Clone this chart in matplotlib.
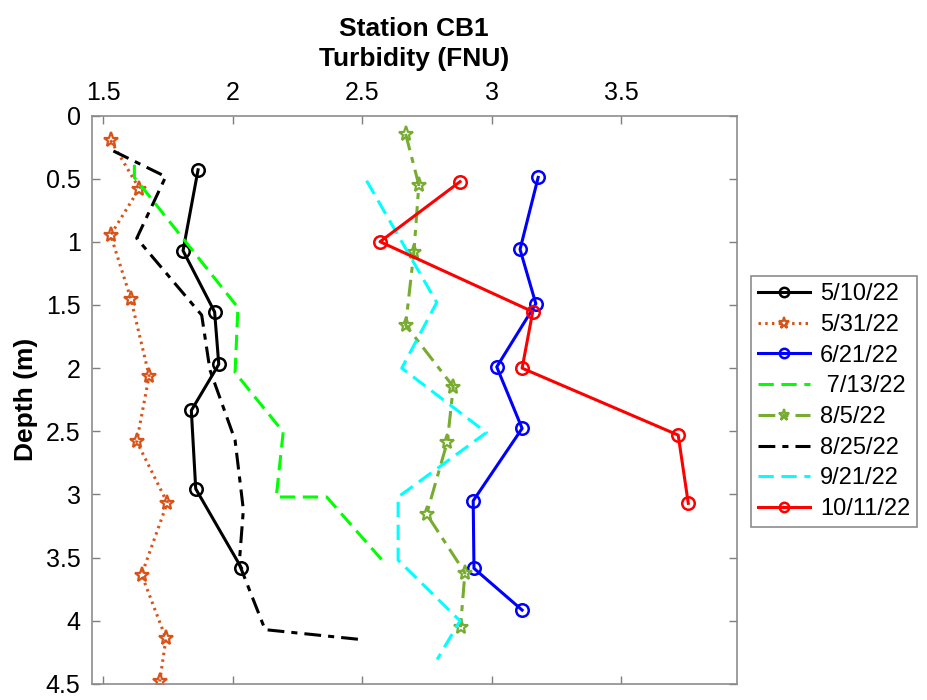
import matplotlib
matplotlib.use("Agg")
import matplotlib.pyplot as plt

plt.rcParams['font.family'] = ['Liberation Sans', 'DejaVu Sans']

# ---- data (turbidity FNU vs depth m) ----
labels = ['5/10/22', '5/31/22', '6/21/22', ' 7/13/22', '8/5/22', '8/25/22', '9/21/22', '10/11/22']

t0510 = [1.866, 1.808, 1.930, 1.946, 1.840, 1.857, 2.033]
d0510 = [0.43, 1.07, 1.555, 1.97, 2.335, 2.955, 3.58]

t0531 = [1.528, 1.639, 1.528, 1.606, 1.677, 1.629, 1.747, 1.648, 1.742, 1.718]
d0531 = [0.196, 0.578, 0.946, 1.449, 2.06, 2.58, 3.066, 3.635, 4.14, 4.48]

t0621 = [3.180, 3.110, 3.171, 3.020, 3.118, 2.929, 2.932, 3.118]
d0621 = [0.49, 1.06, 1.49, 1.99, 2.477, 3.05, 3.585, 3.915]

t0713 = [1.620, 1.620, 2.020, 2.009, 2.195, 2.168, 2.363, 2.575]
d0713 = [0.39, 0.49, 1.52, 2.035, 2.505, 3.02, 3.02, 3.515]

t0805 = [2.668, 2.719, 2.700, 2.668, 2.852, 2.829, 2.749, 2.897, 2.880]
d0805 = [0.146, 0.55, 1.078, 1.659, 2.147, 2.583, 3.155, 3.62, 4.05]

t0825 = [1.539, 1.741, 1.629, 1.880, 1.912, 2.009, 2.041, 2.025, 2.125, 2.489]
d0825 = [0.281, 0.484, 0.972, 1.58, 2.015, 2.57, 3.12, 3.55, 4.07, 4.147]

t0921 = [2.517, 2.788, 2.653, 2.980, 2.639, 2.639, 2.878, 2.790]
d0921 = [0.516, 1.48, 2.0, 2.51, 3.02, 3.52, 4.0, 4.305]

t1011 = [2.878, 2.569, 3.159, 3.118, 3.721, 3.760]
d1011 = [0.524, 0.999, 1.553, 2.0, 2.53, 3.07]

xticks = [1.5, 2, 2.5, 3, 3.5]
xtick_labels = ['1.5', '2', '2.5', '3', '3.5']
yticks = [0, 0.5, 1, 1.5, 2, 2.5, 3, 3.5, 4, 4.5]
ytick_labels = ['0', '0.5', '1', '1.5', '2', '2.5', '3', '3.5', '4', '4.5']

# ---- figure ----
fig = plt.figure(figsize=(9.27, 7.0), dpi=100)
ax = fig.add_axes([0.0989, 0.0229, 0.6958, 0.8121])

lw = 2.2
orange = '#D95319'
olive = '#77AC30'
dash = (5, 2.5)
dashdot = (5.5, 2.3, 2.0, 2.3)

ax.plot(t0510, d0510, color='black', lw=lw, marker='o', ms=9, mfc='none', mew=1.8, label=labels[0])
ax.plot(t0531, d0531, color=orange, lw=lw, ls=(0, (0.8, 1.4)), marker='*', ms=11, mfc='none', mew=1.6, label=labels[1])
ax.plot(t0621, d0621, color='#0000FF', lw=lw, marker='o', ms=9, mfc='none', mew=1.8, label=labels[2])
ax.plot(t0713, d0713, color='#00FF00', lw=lw, ls=(0, dash), label=labels[3])
ax.plot(t0805, d0805, color=olive, lw=lw, ls=(0, dashdot), marker='*', ms=11, mfc='none', mew=1.6, label=labels[4])
ax.plot(t0825, d0825, color='black', lw=lw, ls=(0, dashdot), label=labels[5])
ax.plot(t0921, d0921, color='#00FFFF', lw=lw, ls=(0, dash), label=labels[6])
ax.plot(t1011, d1011, color='#FF0000', lw=lw, marker='o', ms=9, mfc='none', mew=1.8, label=labels[7])

ax.set_xlim(1.455, 3.947)
ax.set_ylim(4.5, 0)
ax.xaxis.set_ticks_position('top')
ax.xaxis.set_label_position('top')
ax.set_xticks(xticks)
ax.set_xticklabels(xtick_labels)
ax.set_yticks(yticks)
ax.set_yticklabels(ytick_labels)
ax.tick_params(direction='in', top=True, bottom=True, left=True, right=True,
               labeltop=True, labelbottom=False, labelsize=18, length=6, width=1,
               color='#7f7f7f')
ax.tick_params(axis='x', pad=7.5)
ax.tick_params(axis='y', pad=8)
for s in ax.spines.values():
    s.set_color('#8c8c8c')
    s.set_linewidth(1.2)

ax.set_xlabel('Turbidity (FNU)', fontsize=19, fontweight='bold')
ax.xaxis.set_label_coords(0.5, 1.0870)
ax.set_title('Station CB1', fontsize=19, fontweight='bold', y=1.1400, pad=0)
ax.set_ylabel('Depth (m)', fontsize=19, fontweight='bold')
ax.yaxis.set_label_coords(-0.083, 0.5)

leg = ax.legend(loc='upper left', bbox_to_anchor=(751 / 927, 1 - 276 / 700),
                bbox_transform=fig.transFigure, fontsize=17,
                handlelength=2.2, handletextpad=0.42, labelspacing=0.37,
                borderpad=0.3, borderaxespad=0, fancybox=False, framealpha=1,
                edgecolor='#8c8c8c', markerscale=0.75)
leg.get_frame().set_linewidth(1.2)

fig.savefig('out.png', dpi=100)
